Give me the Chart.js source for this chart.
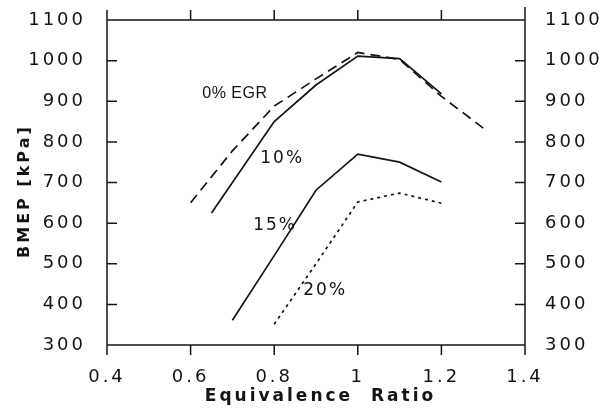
<!DOCTYPE html>
<html>
<head>
<meta charset="utf-8">
<script src="https://cdn.jsdelivr.net/npm/chart.js@4.4.1/dist/chart.umd.min.js"></script>
<style>
  html, body { margin: 0; padding: 0; background: #fff; }
  #wrap { width: 605px; height: 412px; }
</style>
</head>
<body>
<div id="wrap"><canvas id="c" width="605" height="412"></canvas></div>
<script>
// BMEP versus equivalence ratio at four EGR rates
const phi0  = [0.6, 0.7, 0.8, 0.9, 1.0, 1.1, 1.2, 1.3];
const bmep0 = [650, 778, 888, 955, 1020, 1003, 912, 834];

const phi10  = [0.65, 0.8, 0.9, 1.0, 1.1, 1.2];
const bmep10 = [625, 850, 940, 1011, 1005, 918];

const phi15  = [0.7, 0.8, 0.9, 1.0, 1.1, 1.2];
const bmep15 = [361, 520, 681, 770, 750, 701];

const phi20  = [0.8, 0.9, 1.0, 1.1, 1.2];
const bmep20 = [351, 500, 652, 674, 649];

const xTickLabels = ['0.4', '0.6', '0.8', '1', '1.2', '1.4'];
const yTickLabels = ['300', '400', '500', '600', '700', '800', '900', '1000', '1100'];

// curve captions, anchored in data units
const captionText = ['0% EGR', '10%', '15%', '20%'];
const captionPhi  = [0.706, 0.819, 0.802, 0.922];
const captionBmep = [920, 758, 593, 433];

const INK = '#141414';
const toPoints = (xs, ys) => xs.map((x, i) => ({ x: x, y: ys[i] }));

const spacingPlugin = {
  id: 'spacing',
  beforeUpdate(chart) { chart.ctx.letterSpacing = '3px'; },
  beforeDraw(chart) { chart.ctx.letterSpacing = '3px'; }
};

// box frame with inward ticks on the sides, outward on top and bottom
const framePlugin = {
  id: 'frame',
  afterDraw(chart) {
    const { ctx, chartArea: a, scales } = chart;
    const t = 10;
    ctx.save();
    ctx.strokeStyle = INK;
    ctx.lineWidth = 1.5;
    ctx.lineCap = 'butt';
    ctx.beginPath();
    ctx.moveTo(a.left, a.top - 10); ctx.lineTo(a.left, a.bottom + 10);
    ctx.moveTo(a.right, a.top - 13); ctx.lineTo(a.right, a.bottom + 10);
    ctx.moveTo(a.left, a.top); ctx.lineTo(a.right, a.top);
    ctx.moveTo(a.left, a.bottom); ctx.lineTo(a.right, a.bottom);
    scales.x.ticks.forEach(tk => {
      const px = scales.x.getPixelForValue(tk.value);
      ctx.moveTo(px, a.bottom); ctx.lineTo(px, a.bottom + t);
      ctx.moveTo(px, a.top); ctx.lineTo(px, a.top - t);
    });
    scales.y.ticks.forEach(tk => {
      const py = scales.y.getPixelForValue(tk.value);
      ctx.moveTo(a.left, py); ctx.lineTo(a.left + t, py);
      ctx.moveTo(a.right, py); ctx.lineTo(a.right - t, py);
    });
    ctx.stroke();
    ctx.restore();
  }
};

const captionPlugin = {
  id: 'captions',
  afterDatasetsDraw(chart) {
    const { ctx, scales } = chart;
    ctx.save();
    ctx.fillStyle = INK;
    ctx.textAlign = 'center';
    ctx.textBaseline = 'middle';
    captionText.forEach((txt, i) => {
      if (i === 0) {
        ctx.font = '16px "Liberation Sans", Arial, sans-serif';
        ctx.letterSpacing = '0.5px';
      } else {
        ctx.font = '17px "DejaVu Sans", sans-serif';
        ctx.letterSpacing = '2px';
      }
      ctx.fillText(txt, scales.x.getPixelForValue(captionPhi[i]), scales.y.getPixelForValue(captionBmep[i]));
    });
    ctx.restore();
  }
};

const lineStyle = { borderColor: INK, borderWidth: 1.7, pointRadius: 0, tension: 0, fill: false };
const tickFont = { family: 'DejaVu Sans', size: 18 };

const fixBox = (w, h) => s => {
  if (w !== null) s.width = w;
  if (h !== null) s.height = h;
  s.paddingTop = 0; s.paddingBottom = 0; s.paddingLeft = 0; s.paddingRight = 0;
};

new Chart(document.getElementById('c'), {
  type: 'line',
  data: {
    datasets: [
      Object.assign({ label: '0% EGR', data: toPoints(phi0, bmep0), borderDash: [10, 6] }, lineStyle),
      Object.assign({ label: '10%', data: toPoints(phi10, bmep10) }, lineStyle),
      Object.assign({ label: '15%', data: toPoints(phi15, bmep15) }, lineStyle),
      Object.assign({ label: '20%', data: toPoints(phi20, bmep20), borderDash: [3, 4] }, lineStyle)
    ]
  },
  options: {
    responsive: false,
    animation: false,
    layout: { padding: { top: 20, left: 0, right: 0, bottom: 0 } },
    plugins: { legend: { display: false }, tooltip: { enabled: false } },
    scales: {
      x: {
        type: 'linear', position: 'bottom', min: 0.4, max: 1.4,
        grid: { display: false, drawTicks: false },
        border: { display: false },
        ticks: {
          stepSize: 0.2, autoSkip: false, maxRotation: 0, padding: 22,
          color: INK, font: tickFont,
          callback: (v, i) => xTickLabels[i]
        },
        title: {
          display: true, text: ' Equivalence  Ratio', color: INK,
          font: { family: 'DejaVu Sans', size: 17, weight: 'bold' },
          padding: { top: 0, bottom: 5 }
        },
        afterFit: fixBox(null, 67)
      },
      y: {
        type: 'linear', position: 'left', min: 300, max: 1100,
        grid: { display: false, drawTicks: false },
        border: { display: false },
        ticks: {
          stepSize: 100, padding: 21, color: INK, font: tickFont,
          callback: (v, i) => yTickLabels[i]
        },
        title: {
          display: true, text: 'BMEP [kPa]  ', color: INK,
          font: { family: 'DejaVu Sans', size: 16, weight: 'bold' },
          padding: { top: 15, bottom: 0 }
        },
        afterFit: fixBox(107, null)
      },
      y2: {
        type: 'linear', position: 'right', min: 300, max: 1100,
        grid: { display: false, drawTicks: false },
        border: { display: false },
        ticks: {
          stepSize: 100, padding: 20, color: INK, font: tickFont,
          callback: (v, i) => yTickLabels[i]
        },
        afterFit: fixBox(80, null)
      }
    }
  },
  plugins: [spacingPlugin, framePlugin, captionPlugin]
});
</script>
</body>
</html>
